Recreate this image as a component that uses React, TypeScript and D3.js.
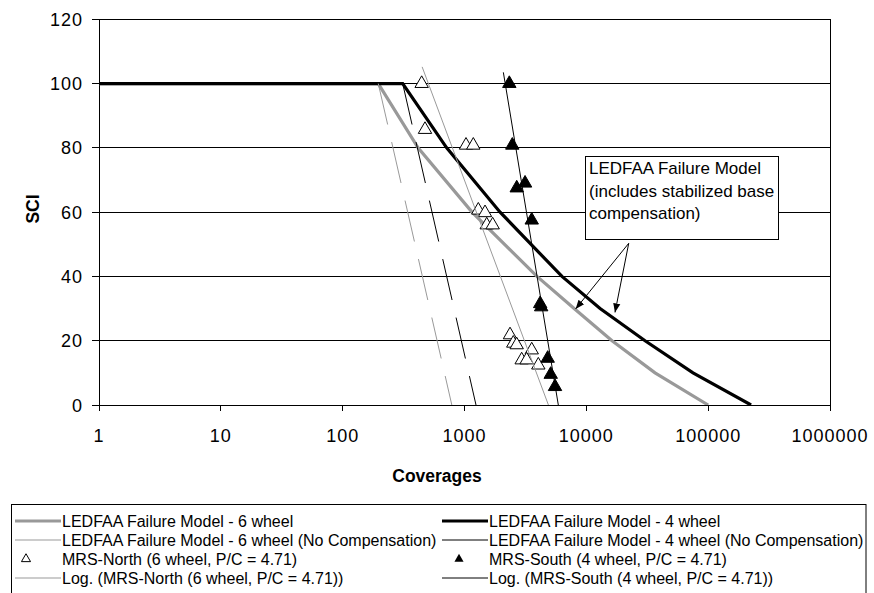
import React from "react";
import * as d3 from "d3";

const W = 874;
const H = 593;
const FONT = "'Liberation Sans', Arial, Helvetica, sans-serif";

// axes
const xTicks = [1, 10, 100, 1000, 10000, 100000, 1000000];
const yTicks = [0, 20, 40, 60, 80, 100, 120];

// LEDFAA failure model - 6 wheel
const sixWheelCov = [1, 196, 416, 1153, 3936, 7940, 16250, 36640, 100000];
const sixWheelSci = [100, 100, 80, 60, 40, 30, 20, 10, 0];
// LEDFAA failure model - 4 wheel
const fourWheelCov = [1, 311, 714, 1960, 6310, 12970, 30340, 75100, 224900];
const fourWheelSci = [100, 100, 80, 60, 40, 30, 20, 10, 0];
// no compensation
const sixNoCompCov = [196, 787];
const sixNoCompSci = [100, 0];
const fourNoCompCov = [311, 1243];
const fourNoCompSci = [100, 0];

// MRS-North (6 wheel, P/C = 4.71)
const northCov = [445, 474, 1029, 1181, 1298, 1474, 1522, 1703, 2364, 2514, 2681, 3563, 2946, 3237, 4036];
const northSci = [100, 85.7, 80.8, 80.8, 60.6, 59.8, 56, 56, 21.8, 19.2, 18.7, 17.1, 14, 14, 12.4];
// MRS-South (4 wheel, P/C = 4.71)
const southCov = [2333, 2468, 2684, 3140, 3563, 4180, 4260, 4819, 5101, 5533];
const southSci = [100, 80.8, 67.5, 69, 57.5, 31.5, 30.5, 14.5, 9.5, 5.7];

// log trendlines, end points
const northTrendCov = [449, 4886];
const northTrendSci = [105.2, 0];
const southTrendCov = [2084, 5890];
const southTrendSci = [103.5, 0];

// annotation arrows (coverage, SCI)
const arrowBase = [22280, 50.3];
const arrowTips = [
  [8170, 29.9],
  [17190, 28.8],
];
const annoLines = ["LEDFAA Failure Model", "(includes stabilized base", "compensation)"];

const GRAY = "#999999";

const x = d3.scaleLog().domain([1, 1000000]).range([99, 830]);
const y = d3.scaleLinear().domain([0, 120]).range([405, 19.3]);

const zip = (a: number[], b: number[]) => a.map((v, i) => [v, b[i]] as [number, number]);
const line = d3
  .line<[number, number]>()
  .x((d) => x(d[0]))
  .y((d) => y(d[1]));

const triBig = d3.symbol().type(d3.symbolTriangle).size(78)()!;
const triSmall = d3.symbol().type(d3.symbolTriangle).size(36)()!;

const legendRows = [
  { label: "LEDFAA Failure Model - 6 wheel", kind: "line", color: GRAY, width: 3 },
  { label: "LEDFAA Failure Model - 4 wheel", kind: "line", color: "#000", width: 3 },
  { label: "LEDFAA Failure Model - 6 wheel (No Compensation)", kind: "line", color: GRAY, width: 1 },
  { label: "LEDFAA Failure Model - 4 wheel (No Compensation)", kind: "line", color: "#000", width: 1 },
  { label: "MRS-North (6 wheel, P/C = 4.71)", kind: "open", color: "#000", width: 1 },
  { label: "MRS-South (4 wheel, P/C = 4.71)", kind: "filled", color: "#000", width: 1 },
  { label: "Log. (MRS-North (6 wheel, P/C = 4.71))", kind: "line", color: GRAY, width: 1 },
  { label: "Log. (MRS-South (4 wheel, P/C = 4.71))", kind: "line", color: "#000", width: 1 },
];

function App() {
  const x0 = x(1);
  const x1 = x(1000000);
  const yB = y(0);
  const yT = y(120);
  const base = [x(arrowBase[0]), y(arrowBase[1])];

  return (
    <svg
      width={W}
      height={H}
      style={{ position: "absolute", left: 0, top: 0, background: "#fff" }}
      fontFamily={FONT}
    >
      <defs>
        <marker id="ah" viewBox="0 0 10 10" refX="10" refY="5" markerWidth="9" markerHeight="9" orient="auto" markerUnits="userSpaceOnUse">
          <path d="M0,1 L10,5 L0,9 z" fill="#000" />
        </marker>
        <clipPath id="plot">
          <rect x={x0} y={yT} width={x1 - x0} height={yB - yT} />
        </clipPath>
      </defs>

      {/* grid */}
      {yTicks.map((t) => (
        <line key={t} x1={x0} x2={x1} y1={y(t)} y2={y(t)} stroke="#000" strokeWidth={1} shapeRendering="crispEdges" />
      ))}
      <line x1={x1} x2={x1} y1={yT} y2={yB} stroke="#000" shapeRendering="crispEdges" />
      <line x1={x0} x2={x0} y1={yT} y2={yB} stroke="#000" shapeRendering="crispEdges" />
      {yTicks.map((t) => (
        <line key={"yt" + t} x1={x0 - 7} x2={x0} y1={y(t)} y2={y(t)} stroke="#000" shapeRendering="crispEdges" />
      ))}
      {xTicks.map((t) => (
        <line key={"xt" + t} x1={x(t)} x2={x(t)} y1={yB} y2={yB + 6} stroke="#000" shapeRendering="crispEdges" />
      ))}

      {/* tick labels */}
      {yTicks.map((t) => (
        <text key={"yl" + t} x={83} y={y(t) + 6.5} textAnchor="end" fontSize={18} letterSpacing={1}>
          {t}
        </text>
      ))}
      {xTicks.map((t) => (
        <text key={"xl" + t} x={x(t)} y={442} textAnchor="middle" fontSize={18} letterSpacing={1}>
          {t}
        </text>
      ))}
      <text x={437} y={482} textAnchor="middle" fontSize={17.5} fontWeight="bold">
        Coverages
      </text>
      <text transform="translate(39,209) rotate(-90)" textAnchor="middle" fontSize={17.5} fontWeight="bold">
        SCI
      </text>

      <g clipPath="url(#plot)">
        <path d={line(zip(sixWheelCov, sixWheelSci))!} fill="none" stroke={GRAY} strokeWidth={3.2} />
        <path d={line(zip(fourWheelCov, fourWheelSci))!} fill="none" stroke="#000" strokeWidth={3.2} />
        <path d={line(zip(sixNoCompCov, sixNoCompSci))!} fill="none" stroke={GRAY} strokeWidth={1} strokeDasharray="42 18" />
        <path d={line(zip(fourNoCompCov, fourNoCompSci))!} fill="none" stroke="#000" strokeWidth={1} strokeDasharray="42 18" />
        {zip(northCov, northSci).map((d, i) => (
          <path key={"n" + i} d={triBig} transform={`translate(${x(d[0])},${y(d[1])})`} fill="#fff" stroke="#000" strokeWidth={1} />
        ))}
        {zip(southCov, southSci).map((d, i) => (
          <path key={"s" + i} d={triBig} transform={`translate(${x(d[0])},${y(d[1])})`} fill="#000" stroke="#000" strokeWidth={1} />
        ))}
        <path d={line(zip(northTrendCov, northTrendSci))!} fill="none" stroke={GRAY} strokeWidth={1} />
        <path d={line(zip(southTrendCov, southTrendSci))!} fill="none" stroke="#000" strokeWidth={1} />
      </g>

      {/* annotation */}
      <rect x={585.5} y={156.5} width={193} height={83} fill="#fff" stroke="#000" strokeWidth={1} />
      {annoLines.map((s, i) => (
        <text key={s} x={589} y={174 + i * 22.5} fontSize={17}>
          {s}
        </text>
      ))}
      {arrowTips.map((t, i) => (
        <line key={"a" + i} x1={base[0]} y1={base[1]} x2={x(t[0])} y2={y(t[1])} stroke="#000" strokeWidth={1} markerEnd="url(#ah)" />
      ))}

      {/* legend */}
      <rect x={11.5} y={504.5} width={854.5} height={95} fill="#fff" stroke="#000" strokeWidth={1} />
      {legendRows.map((r, i) => {
        const col = i % 2;
        const row = Math.floor(i / 2);
        const lx = col === 0 ? 15 : 442;
        const ly = 521 + row * 19;
        return (
          <g key={r.label}>
            {r.kind === "line" && <line x1={lx} x2={lx + 46} y1={ly} y2={ly} stroke={r.color} strokeWidth={r.width} />}
            {r.kind === "open" && <path d={triSmall} transform={`translate(${lx + 11},${ly})`} fill="#fff" stroke="#000" strokeWidth={1} />}
            {r.kind === "filled" && <path d={triSmall} transform={`translate(${lx + 17},${ly})`} fill="#000" />}
            <text x={lx + 47} y={ly + 6} fontSize={16}>
              {r.label}
            </text>
          </g>
        );
      })}
    </svg>
  );
}

export default App;
